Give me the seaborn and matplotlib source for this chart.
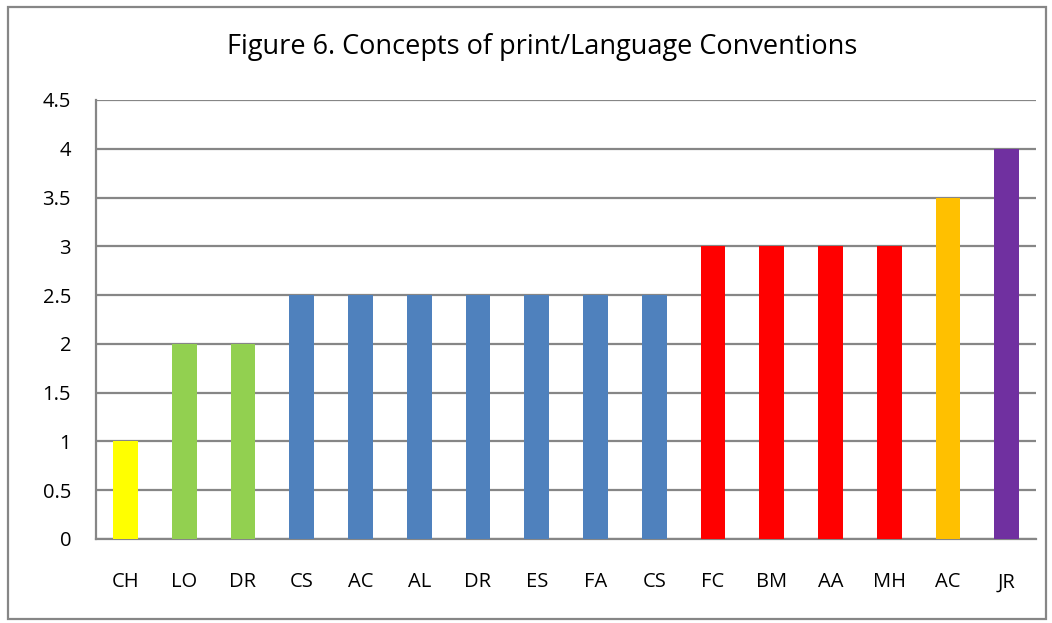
import matplotlib
matplotlib.use("Agg")
import matplotlib.pyplot as plt
import seaborn as sns
import pandas as pd
from matplotlib.patches import Rectangle

categories = ["CH", "LO", "DR", "CS", "AC", "AL", "DR", "ES", "FA", "CS", "FC", "BM", "AA", "MH", "AC", "JR"]
values = [1, 2, 2, 2.5, 2.5, 2.5, 2.5, 2.5, 2.5, 2.5, 3, 3, 3, 3, 3.5, 4]
colors = ["#FFFF00", "#92D050", "#92D050", "#4F81BD", "#4F81BD", "#4F81BD", "#4F81BD", "#4F81BD",
          "#4F81BD", "#4F81BD", "#FF0000", "#FF0000", "#FF0000", "#FF0000", "#FFC000", "#7030A0"]
yticks = [0, 0.5, 1, 1.5, 2, 2.5, 3, 3.5, 4, 4.5]
ytick_labels = ["0", "0.5", "1", "1.5", "2", "2.5", "3", "3.5", "4", "4.5"]
title = "Figure 6. Concepts of print/Language Conventions"

sns.set_style("white")
plt.rcParams['font.family'] = ['Open Sans', 'DejaVu Sans']

df = pd.DataFrame({"pos": [str(i) for i in range(len(categories))], "value": values})

fig = plt.figure(figsize=(10.52, 6.23), dpi=100)
ax = fig.add_axes([0.0913, 0.135, 0.8937, 0.7045])

sns.barplot(data=df, x="pos", y="value", hue="pos", palette=colors, legend=False,
            width=0.42, saturation=1, linewidth=0, edgecolor="none", ax=ax, zorder=3)

ax.set_ylim(0, 4.5)
ax.set_xlim(-0.5, len(categories) - 0.5)
ax.set_yticks(yticks)
ax.set_yticklabels(ytick_labels)
ax.set_xticks(range(len(categories)))
ax.set_xticklabels(categories)
ax.set_xlabel("")
ax.set_ylabel("")
ax.grid(axis="y", color="#868686", linewidth=1.6, zorder=0)
ax.set_axisbelow(True)
for s in ["top", "right"]:
    ax.spines[s].set_visible(False)
for s in ["left", "bottom"]:
    ax.spines[s].set_color("#868686")
    ax.spines[s].set_linewidth(1.6)
ax.tick_params(axis="y", length=0, pad=18, labelsize=14.5, labelcolor="black")
ax.tick_params(axis="x", length=0, pad=24, labelsize=14.5, labelcolor="black")

fig.text(0.515, 0.925, title, ha="center", va="center", fontsize=19.5, color="black")

fig.patches.append(Rectangle((8 / 1052, 1 - 619 / 623), (1046 - 8) / 1052, (619 - 7) / 623,
                             transform=fig.transFigure, fill=False, edgecolor="#868686",
                             linewidth=1.6, figure=fig))

fig.savefig("out.png", dpi=100)
